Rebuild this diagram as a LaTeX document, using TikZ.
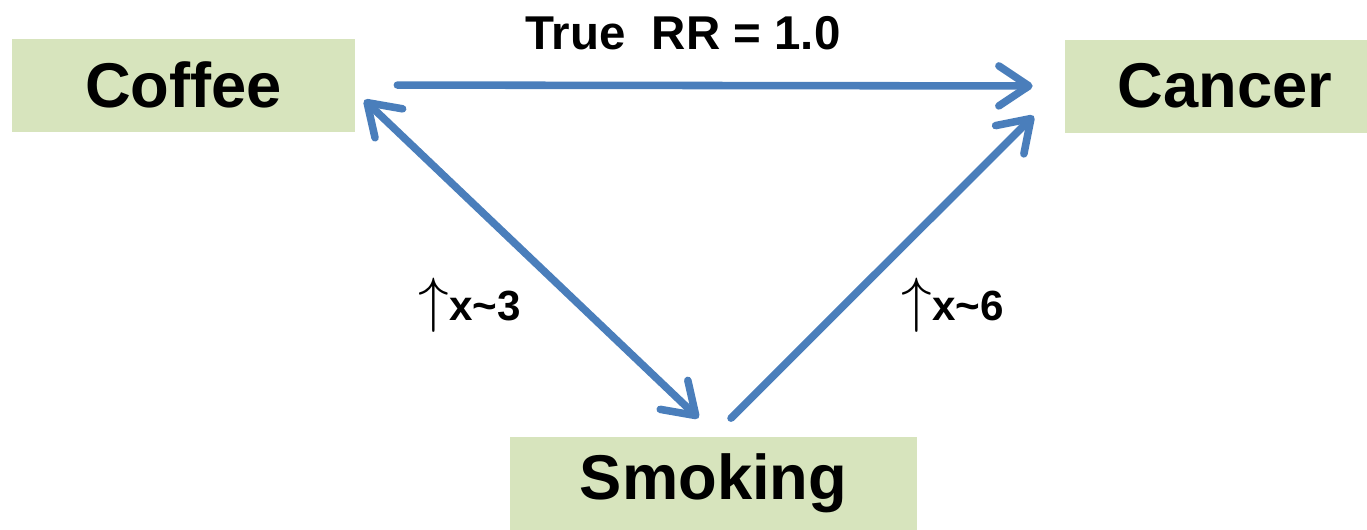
\documentclass[tikz,border=0pt]{standalone}
\usepackage{fontspec}
\setmainfont{Liberation Sans}
\usepackage{graphicx}
\usepackage{tikz}
\usetikzlibrary{arrows.meta}
\definecolor{cblue}{HTML}{4A7EBB}
\definecolor{cgreen}{HTML}{D7E4BD}
\newcommand{\upby}{\scalebox{1.4}{$\uparrow$}}

\begin{document}
\begin{tikzpicture}[
  box/.style={fill=cgreen,minimum height=1.86cm,inner sep=0pt,
    font=\fontsize{36}{40}\selectfont\bfseries},
  tip/.tip={Straight Barb[length=0.6cm,width=0.8cm,line width=0pt 1,round]},
  arr/.style={draw=cblue,line width=4.3pt,line cap=round,-tip},
  lbl/.style={font=\fontsize{24}{28}\selectfont\bfseries,inner sep=0pt}]
  \useasboundingbox (0,0) rectangle (27.34,-10.58);
  \node[box,minimum width=6.86cm] (coffee) at (3.67,-1.7) {Coffee};
  \node[box,minimum width=6.04cm] (cancer) at (24.32,-1.72) {\hspace{0.35cm}Cancer};
  \node[box,minimum width=8.14cm] (smoking) at (14.27,-9.66) {Smoking};
  \draw[arr,shorten <=0.84cm,shorten >=0.64cm] (coffee.east) -- (cancer.west);
  \draw[arr,tip-tip]
    ([shift={(0.18,-0.3)}]coffee.east) -- ([shift={(-0.3,0.36)}]smoking.north);
  \draw[arr] ([shift={(0.35,0.36)}]smoking.north) -- ([shift={(-0.62,0.34)}]cancer.south west);
  \node[lbl,font=\fontsize{27}{30}\selectfont\bfseries] (rr) at (13.66,-0.66) {True~~RR = 1.0};
  \node[lbl] (or1) at (9.4,-6.1) {\upby x\textasciitilde3};
  \node[lbl] (or2) at (19.06,-6.1) {\upby x\textasciitilde6};
\end{tikzpicture}
\end{document}
